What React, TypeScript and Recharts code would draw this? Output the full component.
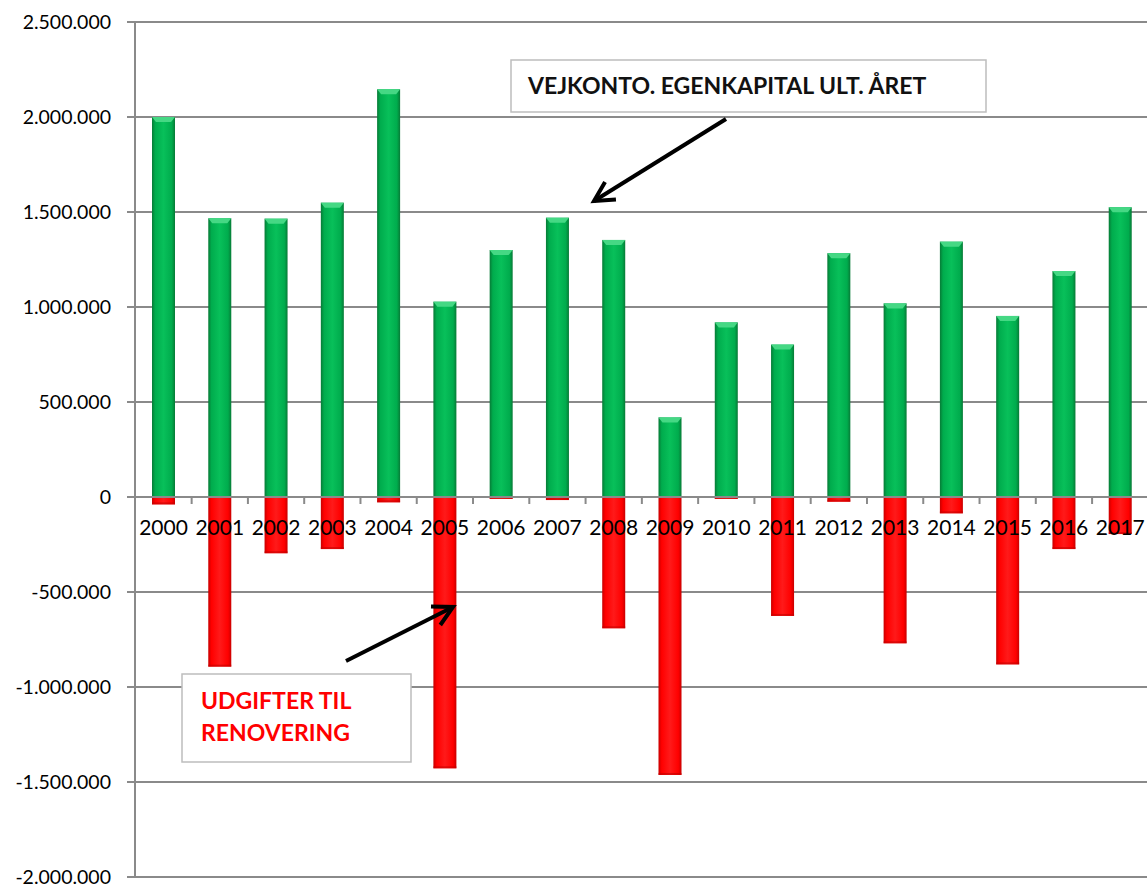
import React from 'react';
import { BarChart, Bar, XAxis, YAxis, CartesianGrid, LabelList, ReferenceLine } from 'recharts';

const years = ['2000', '2001', '2002', '2003', '2004', '2005', '2006', '2007', '2008', '2009', '2010', '2011', '2012', '2013', '2014', '2015', '2016', '2017'];
const egenkapital = [2000000, 1467000, 1465000, 1549000, 2146000, 1028000, 1300000, 1470000, 1353000, 419000, 919000, 802000, 1283000, 1019000, 1344000, 953000, 1189000, 1525000];
const renovering = [-39000, -893000, -296000, -274000, -28000, -1428000, -10000, -16000, -691000, -1463000, -10000, -626000, -25000, -770000, -86000, -881000, -274000, -195000];
const yTicks = [-2000000, -1500000, -1000000, -500000, 0, 500000, 1000000, 1500000, 2000000, 2500000];

const labelTop = 'VEJKONTO. EGENKAPITAL ULT. ÅRET';
const labelBottom = ['UDGIFTER TIL', 'RENOVERING'];

const data = years.map((y, i) => ({ year: y, egenkapital: egenkapital[i], renovering: renovering[i] }));

const CHART_W = 1150;
const CHART_H = 885;
const MARGIN = { top: 22, right: 2, bottom: 8, left: 0 };
const Y_AXIS_W = 135;
const BAND = (CHART_W - MARGIN.left - MARGIN.right - Y_AXIS_W) / years.length;
const GRID = '#8a8a8a';
const FONT = 'Lato, "Open Sans", sans-serif';

const fmt = (v: number) => (v < 0 ? '-' : '') + Math.abs(v).toString().replace(/\B(?=(\d{3})+(?!\d))/g, '.');

const GreenShape = (props: any) => {
  const { x, y, width, height } = props;
  const top = Math.min(y, y + height);
  const h = Math.abs(height);
  if (!h) return null;
  const cap = Math.min(5, h);
  return (
    <g>
      <rect x={x} y={top} width={width} height={h} fill="url(#gradGreen)" />
      <polygon
        points={`${x},${top} ${x + width},${top} ${x + width - 4},${top + cap} ${x + 4},${top + cap}`}
        fill="#45d884"
      />
    </g>
  );
};

const RedShape = (props: any) => {
  const { x, y, width, height } = props;
  const top = Math.min(y, y + height);
  const h = Math.abs(height);
  if (!h) return null;
  return (
    <g>
      <rect x={x} y={top} width={width} height={h} fill="url(#gradRed)" />
      <rect x={x} y={top + h - 2} width={width} height={2} fill="#c40000" opacity={0.6} />
    </g>
  );
};

const YearLabel = (props: any) => {
  const { x, y, width, height, value } = props;
  const zero = Math.max(y, y + height);
  const cx = x + width / 2;
  return (
    <g>
      <line x1={cx + BAND / 2} x2={cx + BAND / 2} y1={zero} y2={zero + 7} stroke={GRID} strokeWidth={2} />
      <text x={cx} y={zero + 38} textAnchor="middle" fontSize={21} fontFamily={FONT} fill="#000">
        {value}
      </text>
    </g>
  );
};

const arrow = (x1: number, y1: number, x2: number, y2: number, key: string) => {
  const dx = x2 - x1;
  const dy = y2 - y1;
  const len = Math.sqrt(dx * dx + dy * dy);
  const ux = dx / len;
  const uy = dy / len;
  const hl = 22;
  const a = (28 * Math.PI) / 180;
  const rot = (s: number) => {
    const c = Math.cos(s * a);
    const sn = Math.sin(s * a);
    const bx = -ux;
    const by = -uy;
    return [x2 + hl * (bx * c - by * sn), y2 + hl * (bx * sn + by * c)];
  };
  const [ax, ay] = rot(1);
  const [bx, by] = rot(-1);
  return (
    <g key={key}>
      <line x1={x1} y1={y1} x2={x2} y2={y2} stroke="#000" strokeWidth={4} />
      <polyline points={`${ax},${ay} ${x2},${y2} ${bx},${by}`} fill="none" stroke="#000" strokeWidth={4} strokeLinejoin="miter" />
    </g>
  );
};

export default function App() {
  return (
    <div style={{ position: 'fixed', left: 0, top: 0, width: 1147, height: 885, overflow: 'hidden', background: '#fff' }}>
      <BarChart width={CHART_W} height={CHART_H} data={data} margin={MARGIN} stackOffset="sign" barSize={23}>
        <defs>
          <linearGradient id="gradGreen" x1="0" y1="0" x2="1" y2="0">
            <stop offset="0%" stopColor="#077a36" />
            <stop offset="14%" stopColor="#00ac4d" />
            <stop offset="50%" stopColor="#08c05a" />
            <stop offset="86%" stopColor="#00ac4d" />
            <stop offset="100%" stopColor="#077a36" />
          </linearGradient>
          <linearGradient id="gradRed" x1="0" y1="0" x2="1" y2="0">
            <stop offset="0%" stopColor="#c80000" />
            <stop offset="14%" stopColor="#ff0000" />
            <stop offset="50%" stopColor="#ff1a1a" />
            <stop offset="86%" stopColor="#ff0000" />
            <stop offset="100%" stopColor="#c80000" />
          </linearGradient>
        </defs>
        <CartesianGrid vertical={false} stroke={GRID} strokeWidth={2} />
        <XAxis dataKey="year" hide />
        <YAxis
          width={Y_AXIS_W}
          domain={[-2000000, 2500000]}
          ticks={yTicks}
          interval={0}
          tickFormatter={fmt}
          axisLine={{ stroke: GRID, strokeWidth: 2 }}
          tickLine={{ stroke: GRID, strokeWidth: 2 }}
          tickSize={8}
          tickMargin={16}
          tick={{ fill: '#000', fontSize: 19.5, fontFamily: FONT }}
        />
        <ReferenceLine y={0} stroke={GRID} strokeWidth={2} />
        <Bar dataKey="egenkapital" stackId="a" isAnimationActive={false} shape={GreenShape}>
          <LabelList dataKey="year" content={YearLabel} />
        </Bar>
        <Bar dataKey="renovering" stackId="a" isAnimationActive={false} shape={RedShape} />
      </BarChart>
      <svg width={1147} height={885} style={{ position: 'absolute', left: 0, top: 0, pointerEvents: 'none' }}>
        <rect x={511} y={60} width={475} height={52} fill="#fff" stroke="#bdbdbd" strokeWidth={1.5} />
        <text x={528} y={94} fontFamily={FONT} fontWeight={700} fontSize={23} fill="#111">
          {labelTop}
        </text>
        {arrow(726, 119, 594, 201, 'a1')}
        <rect x={182} y={674} width={229} height={88} fill="#fff" stroke="#bdbdbd" strokeWidth={1.5} />
        <text x={201} y={709} fontFamily={FONT} fontWeight={700} fontSize={23} fill="#ff0000">
          {labelBottom[0]}
        </text>
        <text x={201} y={741} fontFamily={FONT} fontWeight={700} fontSize={23} fill="#ff0000">
          {labelBottom[1]}
        </text>
        {arrow(346, 661, 453, 607, 'a2')}
      </svg>
    </div>
  );
}
